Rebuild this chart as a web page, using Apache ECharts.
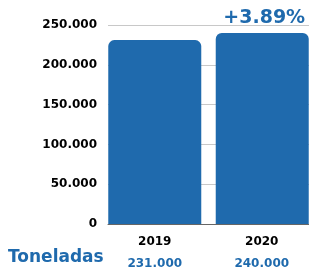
<!DOCTYPE html>
<html><head><meta charset="utf-8">
<script src="https://cdn.jsdelivr.net/npm/echarts@6/dist/echarts.min.js"></script>
<style>html,body{margin:0;padding:0;background:#fff}#c{width:309px;height:269px}</style>
</head><body><div id="c"></div>
<script>
const categories = ['2019', '2020'];
const toneladas = [231000, 240000];
const yTicks = [0, 50000, 100000, 150000, 200000, 250000];
const changeLabel = '+3.89%';
const rowTitle = 'Toneladas';

const blue = '#1f6aad';
const fmt = v => String(v).replace(/\B(?=(\d{3})+(?!\d))/g, '.');
const chart = echarts.init(document.getElementById('c'));
const yMax = yTicks[yTicks.length - 1];
const yInt = yTicks[1] - yTicks[0];
const only = k => toneladas.map((v, i) => i === k ? v : '-');
const barBase = {
  type: 'bar', barWidth: 93, barGap: '-92.5%', z: 5,
  itemStyle: {color: blue, borderRadius: [6, 6, 0, 0]}
};
const yStyle = {fontFamily: 'DejaVu Sans', fontWeight: 'bold', fontSize: 12, color: '#000', lineHeight: 22};
const vStyle = {fontFamily: 'DejaVu Sans', fontWeight: 'bold', fontSize: 12, color: blue, lineHeight: 22};
chart.setOption({
  animation: false,
  grid: {left: 108, right: 0, top: 25, height: 199, outerBoundsMode: 'none'},
  xAxis: {type: 'category', data: categories, axisLine: {show: true, lineStyle: {color: '#666', width: 1}}, axisTick: {show: false},
     axisLabel: {margin: 7, interval: 0, formatter: (v, i) => '{y' + i + '|' + v + '}\n{v' + i + '|' + fmt(toneladas[i]) + '}',
       rich: {
         y0: Object.assign({padding: [0, 7, 0, 0]}, yStyle), v0: Object.assign({padding: [0, 7, 0, 0]}, vStyle),
         y1: Object.assign({padding: [0, 0, 0, 6]}, yStyle), v1: Object.assign({padding: [0, 0, 0, 6]}, vStyle)
       }}},
  yAxis: {type: 'value', min: 0, max: yMax, interval: yInt,
     axisLabel: {margin: 11, formatter: v => fmt(v), fontFamily: 'DejaVu Sans', fontWeight: 'bold', fontSize: 12, color: '#000'},
     splitLine: {lineStyle: {color: '#c8c8c8', width: 1}}},
  series: [
    Object.assign({}, barBase, {data: only(0)}),
    Object.assign({}, barBase, {data: only(1),
      label: {show: true, position: 'top', distance: 5, offset: [2, 0], formatter: () => changeLabel,
        fontFamily: 'DejaVu Sans', fontWeight: 'bold', fontSize: 19, color: blue}})
  ],
  graphic: [{type: 'text', left: 8, top: 249, style: {text: rowTitle, fontFamily: 'DejaVu Sans', fontWeight: 'bold', fontSize: 17, fill: blue}}]
});
</script></body></html>
